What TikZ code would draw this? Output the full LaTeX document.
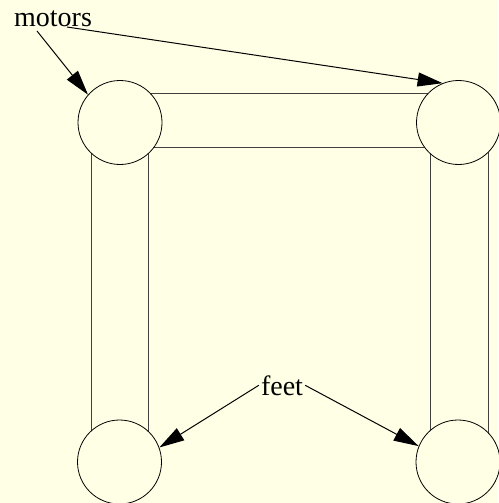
\documentclass[tikz,border=0pt]{standalone}
\usepackage{fontspec}
\setmainfont{Liberation Serif}
\usetikzlibrary{arrows.meta}
\definecolor{paper}{RGB}{255,255,230}

\begin{document}
\begin{tikzpicture}[x=1pt, y=-1pt, >={Triangle[length=25pt,width=14pt]},
  font=\rmfamily\fontsize{28}{32}\selectfont,
  bar/.style={draw=black!75, line width=0.8pt},
  joint/.style={circle, draw, line width=0.8pt, fill=paper, minimum size=84pt, inner sep=0pt},
  lbl/.style={anchor=base, inner sep=2pt},
  ptr/.style={->, line width=1pt}]
\fill[paper] (0,0) rectangle (498,503);
\useasboundingbox (0,0) rectangle (498,503);
% frame bars behind the joints
\draw[bar] (120,93) rectangle (458,147);
\draw[bar] (91,122) rectangle (148,462);
\draw[bar] (430,122) rectangle (488,462);
% joints
\node[joint] (motorL) at (120,122.5) {};
\node[joint] (motorR) at (458.5,122.5) {};
\node[joint] (footL) at (119.5,462) {};
\node[joint] (footR) at (458,462) {};
% labels
\node[lbl] (motors) at (53,27) {motors};
\node[lbl] (feet) at (282,395) {feet};
\coordinate (mA) at (37,31);
\coordinate (mB) at (67,27);
% pointers
\draw[ptr] (mA) -- (motorL.139);
\draw[ptr] (mB) -- (motorR.112);
\draw[ptr] (feet.west) -- (footL.20);
\draw[ptr] (feet.east) -- (footR.158);
\end{tikzpicture}
\end{document}
